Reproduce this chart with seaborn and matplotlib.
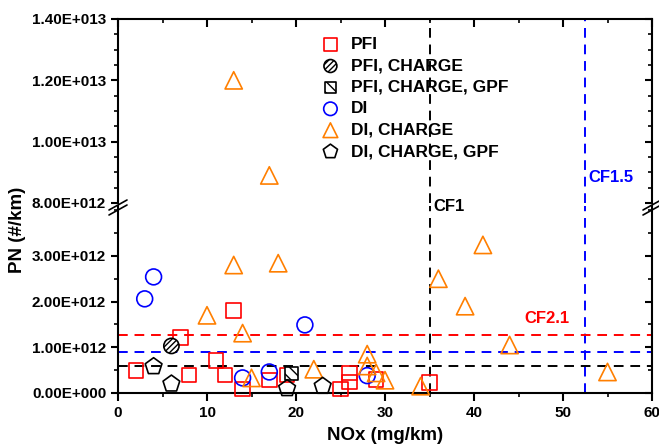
import matplotlib
matplotlib.use("Agg")
import matplotlib.pyplot as plt
from matplotlib.ticker import FixedLocator, MultipleLocator, FuncFormatter
import pandas as pd
import seaborn as sns

# NOx in mg/km, PN in 1E12 #/km
pfi_nox = [2, 7, 8, 11, 12, 13, 14, 17, 19, 25, 26, 26, 29, 35]
pfi_pn = [0.49, 1.22, 0.39, 0.71, 0.39, 1.80, 0.09, 0.28, 0.39, 0.09, 0.44, 0.24, 0.30, 0.23]

pfi_charge_nox = [6]
pfi_charge_pn = [1.03]

pfi_gpf_nox = [19.5]
pfi_gpf_pn = [0.42]

di_nox = [3, 4, 14, 17, 21, 28]
di_pn = [2.06, 2.54, 0.33, 0.46, 1.49, 0.38]

di_charge_nox = [10, 13, 13, 14, 15, 17, 18, 22, 28, 28, 29, 30, 34, 36, 39, 41, 44, 55]
di_charge_pn = [1.70, 2.80, 12.0, 1.31, 0.33, 8.90, 2.84, 0.52, 0.85, 0.59, 0.44, 0.28, 0.15, 2.50, 1.90, 3.24, 1.05, 0.46]

di_gpf_nox = [4, 6, 19, 23]
di_gpf_pn = [0.58, 0.20, 0.10, 0.15]

# limits (PN, 1E12 #/km)
cf1_pn, cf15_pn, cf21_pn = 0.6, 0.9, 1.26
cf1_nox, cf15_nox = 35, 52.5

sns.set_style("ticks")
plt.rcParams["font.family"] = ["Liberation Sans", "DejaVu Sans"]
plt.rcParams["font.weight"] = "bold"
plt.rcParams["hatch.linewidth"] = 1.0
for k in ("text.color", "axes.labelcolor", "xtick.color", "ytick.color"):
    plt.rcParams[k] = "black"

groups = [
    ("PFI", pfi_nox, pfi_pn, "s", "red", "none", None, 110),
    ("PFI, CHARGE", pfi_charge_nox, pfi_charge_pn, "o", "black", "white", "//////", 120),
    ("PFI, CHARGE, GPF", pfi_gpf_nox, pfi_gpf_pn, "s", "black", "white", "\\\\\\", 90),
    ("DI", di_nox, di_pn, "o", "blue", "none", None, 130),
    ("DI, CHARGE", di_charge_nox, di_charge_pn, "^", "#ff7f00", "none", None, 155),
    ("DI, CHARGE, GPF", di_gpf_nox, di_gpf_pn, "p", "black", "none", None, 160),
]

fig = plt.figure(figsize=(6.59, 4.47), dpi=100)
W, H = 659, 447
left, right = 118 / W, 652 / W
ax_up = fig.add_axes([left, 1 - 203 / H, right - left, (203 - 19) / H])
ax_lo = fig.add_axes([left, 1 - 393 / H, right - left, (393 - 205.6) / H])

low_top = 4.1
for name, xs, ys, mk, ec, fc, hatch, size in groups:
    df = pd.DataFrame({"NOx": xs, "PN": [v * 1e12 for v in ys]})
    lo = df[df["PN"] < low_top * 1e12]
    up = df[df["PN"] >= low_top * 1e12]
    sns.scatterplot(data=lo, x="NOx", y="PN", ax=ax_lo, marker=mk, s=size,
                    facecolor=fc, edgecolor=ec, linewidth=1.2, hatch=hatch,
                    label=name, clip_on=False, zorder=3)
    if len(up):
        sns.scatterplot(data=up, x="NOx", y="PN", ax=ax_up, marker=mk, s=size,
                        facecolor=fc, edgecolor=ec, linewidth=1.2, hatch=hatch,
                        legend=False, zorder=3)

dash = (0, (5, 3.5))
for ax in (ax_up, ax_lo):
    ax.axvline(cf1_nox, color="black", ls=dash, lw=1.4, zorder=1)
    ax.axvline(cf15_nox, color="blue", ls=dash, lw=1.4, zorder=1)
ax_lo.axhline(cf21_pn * 1e12, color="red", ls=dash, lw=1.4, zorder=1)
ax_lo.axhline(cf15_pn * 1e12, color="blue", ls=dash, lw=1.4, zorder=1)
ax_lo.axhline(cf1_pn * 1e12, color="black", ls=dash, lw=1.4, zorder=1)


def sci(v, pos):
    if v == 0:
        return "0.00E+000"
    e = 0
    m = v
    while abs(m) >= 10:
        m /= 10
        e += 1
    return f"{m:.2f}E+{e:03d}"


for ax in (ax_up, ax_lo):
    ax.set_xlim(0, 60)
    ax.xaxis.set_major_locator(MultipleLocator(10))
    ax.xaxis.set_minor_locator(MultipleLocator(5))
    ax.yaxis.set_major_formatter(FuncFormatter(sci))
    for s in ax.spines.values():
        s.set_linewidth(1.5)
        s.set_color("black")
    ax.set_xlabel("")
    ax.set_ylabel("")
    ax.tick_params(axis="y", which="major", direction="out", length=5, width=1.5,
                   labelsize=11, right=True)
    ax.tick_params(axis="y", which="minor", direction="out", length=3, width=1.2, right=True)
    ax.tick_params(axis="x", which="major", direction="out", length=6, width=1.5, labelsize=11)
    ax.tick_params(axis="x", which="minor", direction="out", length=3, width=1.2)
    for lab in ax.get_yticklabels() + ax.get_xticklabels():
        lab.set_fontweight("bold")

ax_up.set_ylim(8e12, 1.4e13)
ax_up.yaxis.set_major_locator(FixedLocator([8e12, 1e13, 1.2e13, 1.4e13]))
ax_up.yaxis.set_minor_locator(MultipleLocator(5e11))
ax_up.spines["bottom"].set_visible(False)
ax_up.tick_params(axis="x", which="both", bottom=False, labelbottom=False, top=True, direction="in")

ax_lo.set_ylim(0, low_top * 1e12)
ax_lo.yaxis.set_major_locator(FixedLocator([0, 1e12, 2e12, 3e12]))
ax_lo.yaxis.set_minor_locator(FixedLocator([5e11, 1.5e12, 2.5e12, 3.5e12, 4e12]))
ax_lo.spines["top"].set_visible(False)

for ax in (ax_up, ax_lo):
    ax.tick_params(axis="y", which="both", right=True, labelright=False)
    for t in ax.yaxis.get_majorticklines()[1::2] + ax.yaxis.get_minorticklines()[1::2]:
        t.set_marker(matplotlib.lines.TICKLEFT)

ax_lo.set_xlabel("NOx (mg/km)", fontsize=13.5, fontweight="bold", labelpad=5)
fig.text(17 / W, 1 - 230 / H, "PN (#/km)", rotation=90, fontsize=13.5,
         fontweight="bold", ha="center", va="center")

# axis break marks
for xpix in (118, 652):
    for dy in (0, 5):
        fig.add_artist(matplotlib.lines.Line2D(
            [(xpix - 9) / W, (xpix + 9) / W],
            [1 - (210 + dy) / H, 1 - (200 + dy) / H],
            color="black", lw=1.2, transform=fig.transFigure))

ax_lo.text(cf1_nox + 0.4, 4.07e12, "CF1", color="black", fontsize=12,
           fontweight="bold", va="center", ha="left", clip_on=False)
ax_up.text(cf15_nox + 0.4, 8.82e12, "CF1.5", color="blue", fontsize=12,
           fontweight="bold", va="center", ha="left")
ax_lo.text(45.7, 1.64e12, "CF2.1", color="red", fontsize=12,
           fontweight="bold", va="center", ha="left")

handles, labels = ax_lo.get_legend_handles_labels()
ax_lo.get_legend().remove()
ax_up.legend(handles, labels, loc="upper left", bbox_to_anchor=(320 / W, 1 - 37 / H),
             bbox_transform=fig.transFigure, frameon=False, borderpad=0,
             borderaxespad=0, handlelength=1.2, handletextpad=0.6,
             labelspacing=0.36, markerscale=0.85,
             prop={"size": 12.5, "weight": "bold"})

fig.savefig("out.png", dpi=100)
